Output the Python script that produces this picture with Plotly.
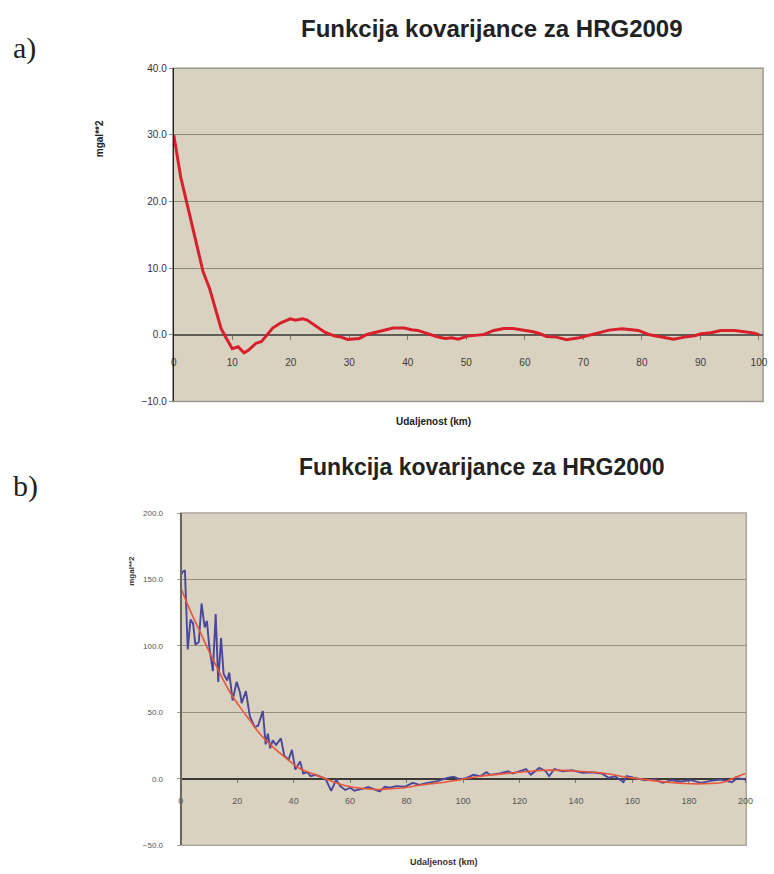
import plotly.graph_objects as go

# ---------------- data ----------------
# a) HRG2009 covariance function
top_km = [0, 1.2, 2.2, 3.3, 5, 6.1, 7.2, 8.1, 8.9, 10, 11, 12, 12.8, 14, 15, 16.9, 18.3, 19.9, 20.8, 22,
          22.8, 24.2, 25.8, 27.5, 28.6, 29.7, 31.7, 33, 35, 36.1, 37.5, 39.4, 40.6, 41.7, 42.8, 43.9, 45,
          46.4, 47.5, 48.6, 50.2, 51.9, 53, 54.7, 56.4, 58, 59.7, 61.4, 62.6, 63.7, 65.4, 67.1, 69.3, 71,
          72.7, 74.4, 76.6, 77.8, 79.4, 81.1, 83.4, 85.4, 87.3, 89, 90.1, 91.8, 93.5, 95.8, 97.5, 99.2, 100]
top_cov = [30.0, 23.6, 19.9, 15.9, 9.5, 7.0, 3.5, 0.9, -0.4, -2.1, -1.8, -2.7, -2.3, -1.3, -1.0, 1.0, 1.8,
           2.4, 2.2, 2.4, 2.2, 1.4, 0.4, -0.2, -0.35, -0.7, -0.55, 0.05, 0.45, 0.65, 1.0, 1.0, 0.75, 0.65,
           0.3, 0.05, -0.3, -0.55, -0.45, -0.65, -0.2, -0.05, 0.05, 0.65, 0.95, 0.95, 0.75, 0.45, 0.15,
           -0.25, -0.35, -0.75, -0.45, -0.05, 0.4, 0.7, 0.9, 0.75, 0.65, 0.05, -0.35, -0.65, -0.35, -0.15,
           0.15, 0.3, 0.65, 0.65, 0.45, 0.25, 0.0]

# b) HRG2000 empirical covariance
emp_km = [0, 0.8, 1.5, 2.5, 3.5, 4.4, 5.2, 6.4, 7.4, 8.5, 9.3, 10.1, 11.4, 12.4, 13.3, 14.3, 15.2, 16.5,
          17.2, 18.4, 19.8, 21.0, 21.6, 23.1, 24.5, 26.2, 27.4, 29.1, 30.1, 30.9, 31.7, 32.6, 33.8, 35.5,
          36.7, 38.2, 39.4, 40.6, 42.3, 43.4, 44.9, 46.0, 47.8, 49.5, 51.3, 53.3, 55.1, 56.5, 58.3, 60.0,
          61.5, 63.0, 64.7, 66.4, 68.8, 70.5, 72.3, 74.0, 76.3, 79.3, 82.2, 84.5, 87.4, 90.9, 94.4, 96.7,
          99.0, 101.3, 103.7, 106.0, 108.3, 109.5, 113.0, 116.0, 117.6, 120.0, 122.3, 124.0, 127.0, 129.3,
          130.5, 132.3, 135.2, 138.7, 142.2, 145.7, 149.2, 151.5, 153.8, 156.8, 157.9, 160.8, 164.3, 167.8,
          170.8, 173.7, 177.2, 180.7, 184.2, 187.7, 191.2, 195.3, 197.0, 200.0]
emp_cov = [153, 156, 157, 97.5, 120, 117, 101, 103, 132, 114, 119, 100, 81, 124, 73, 106, 79, 74, 80, 59,
           73, 65, 57, 66, 47, 39, 40, 51, 26, 34, 23, 29, 25.6, 30.5, 17.4, 14.4, 21.8, 7, 13, 4, 5, 2, 3,
           1.5, 0, -9, -0.5, -5.5, -8.4, -6.7, -9, -8, -7.4, -6.2, -8.4, -9.4, -6, -6.7, -5.5, -6, -3, -4.5,
           -3, -1.7, 0.7, 1.5, -0.5, 0.7, 3, 2, 5, 3, 4, 5.7, 4, 5.7, 7.4, 3.2, 8.2, 5.7, 2, 7.4, 5.7, 6.5,
           4.5, 5, 4, 0.7, 2, -2.5, 2, 0.7, -1, -0.5, -3, -1, -2, -1, -3, -1.5, -0.5, -2.5, 0.5, -0.5]

# b) HRG2000 fitted model
fit_km = [0, 3.5, 7, 10.5, 14, 17.5, 21, 24.5, 28, 32.6, 37.3, 42, 46.6, 51.3, 56, 60.6, 65.3, 70, 74.6,
          79.3, 83.9, 88.6, 93.2, 97.9, 106, 117.6, 129.3, 141, 150.3, 159.6, 168.9, 178.2, 185.2, 192.2,
          196.9, 200]
fit_cov = [144, 126, 110, 94, 79, 65, 54, 44, 34, 24, 15.6, 8, 4, 0, -3.7, -6.2, -7.4, -8, -7.4, -6.7,
           -5, -3.7, -2.5, -1, 2, 4.5, 6.5, 5.7, 4, 0.7, -1.7, -3.5, -3.7, -2.5, 1.5, 4]

top_xticks = list(range(0, 101, 10))
top_yrange = [-10, 40]
bot_xticks = list(range(0, 201, 20))
bot_yrange = [-50, 200]

title_a = "Funkcija kovarijance za HRG2009"
title_b = "Funkcija kovarijance za HRG2000"
x_title = "Udaljenost (km)"
y_title = "mgal**2"

# ---------------- layout helpers ----------------
W, H = 774, 874


def px(x):
    return x / W


def py(y):
    return 1 - y / H


# plot areas (pixels)
T_L, T_R, T_T, T_B = 172, 770, 64, 401
B_L, B_R, B_T, B_B = 180, 753, 514, 850

t_dom_y = [py(T_B), py(T_T)]
b_dom_y = [py(B_B), py(B_T)]
t_zero = t_dom_y[0] + (0 - top_yrange[0]) / (top_yrange[1] - top_yrange[0]) * (t_dom_y[1] - t_dom_y[0])
b_zero = b_dom_y[0] + (0 - bot_yrange[0]) / (bot_yrange[1] - bot_yrange[0]) * (b_dom_y[1] - b_dom_y[0])

SANS = "Liberation Sans, Arial, sans-serif"
SERIF = "Liberation Serif, Times New Roman, serif"

fig = go.Figure()
fig.add_trace(go.Scatter(x=top_km, y=top_cov, mode="lines", xaxis="x", yaxis="y",
                         line=dict(color="#d81f2c", width=3), showlegend=False))
fig.add_trace(go.Scatter(x=emp_km, y=emp_cov, mode="lines", xaxis="x2", yaxis="y2",
                         line=dict(color="#4a479b", width=1.9), showlegend=False))
fig.add_trace(go.Scatter(x=fit_km, y=fit_cov, mode="lines", xaxis="x2", yaxis="y2",
                         line=dict(color="#e8563c", width=1.6, shape="spline", smoothing=0.8),
                         showlegend=False))

fig.update_layout(
    width=W, height=H,
    margin=dict(l=0, r=0, t=0, b=0),
    paper_bgcolor="white",
    plot_bgcolor="#d9d2c1",
    font=dict(family=SANS, color="#333333"),
    xaxis=dict(domain=[px(T_L), px(T_R)], anchor="free", position=t_zero,
               range=[-0.17, 100.7], tickvals=top_xticks, ticktext=[str(v) for v in top_xticks],
               showgrid=False, zeroline=False, showline=True, linecolor="#5f5d58", linewidth=1.5,
               ticks="outside", ticklen=4, tickcolor="#7a776f", tickwidth=1,
               tickfont=dict(size=10, color="#3a3a3a"), ticklabelstandoff=14, layer="below traces"),
    yaxis=dict(domain=t_dom_y, anchor="free", position=px(T_L), range=top_yrange, dtick=10,
               tickformat=".1f", showgrid=True, gridcolor="#8c887c", gridwidth=1, zeroline=False,
               showline=True, linecolor="#222222", linewidth=1, ticks="outside", ticklen=4,
               tickcolor="#8c887c", tickfont=dict(size=10, color="#333333")),
    xaxis2=dict(domain=[px(B_L), px(B_R)], anchor="free", position=b_zero,
                range=[0, 200.3], tickvals=bot_xticks, ticktext=[str(v) for v in bot_xticks],
                showgrid=False, zeroline=False, showline=True, linecolor="#3b3a36", linewidth=2,
                ticks="outside", ticklen=3, tickcolor="#77736a", tickwidth=1,
                tickfont=dict(size=9, color="#555555"), ticklabelstandoff=10, layer="below traces"),
    yaxis2=dict(domain=b_dom_y, anchor="free", position=px(B_L), range=bot_yrange, dtick=50,
                tickformat=".1f", showgrid=True, gridcolor="#978f80", gridwidth=1.2, zeroline=False,
                showline=True, linecolor="#6a675f", linewidth=2, ticks="outside", ticklen=3,
                tickcolor="#a39d90", tickfont=dict(size=8, color="#555555"), ticklabelstandoff=12),
    shapes=[
        dict(type="rect", xref="x domain", yref="y domain", x0=0, x1=1, y0=0, y1=1,
             line=dict(color="#9a968d", width=1.5), layer="below"),
        dict(type="rect", xref="x2 domain", yref="y2 domain", x0=0, x1=1, y0=0, y1=1,
             line=dict(color="#aaa69c", width=1.5), layer="below"),
    ],
    annotations=[
        dict(text="<b>" + title_a + "</b>", x=px(495), y=py(24), xref="paper", yref="paper",
             showarrow=False, font=dict(size=24, color="#222222", family=SANS),
             xanchor="center", yanchor="middle"),
        dict(text="<b>" + title_b + "</b>", x=px(485), y=py(467), xref="paper", yref="paper",
             showarrow=False, font=dict(size=23, color="#222222", family=SANS),
             xanchor="center", yanchor="middle"),
        dict(text="a)", x=px(8), y=py(44), xref="paper", yref="paper", showarrow=False,
             font=dict(size=30, color="#231f20", family=SERIF), xanchor="left", yanchor="middle"),
        dict(text="b)", x=px(8), y=py(487), xref="paper", yref="paper", showarrow=False,
             font=dict(size=30, color="#231f20", family=SERIF), xanchor="left", yanchor="middle"),
        dict(text="<b>" + y_title + "</b>", x=px(98), y=py(135), xref="paper", yref="paper",
             showarrow=False, textangle=-90, font=dict(size=10, color="#222222", family=SANS),
             xanchor="center", yanchor="middle"),
        dict(text="<b>" + y_title + "</b>", x=px(130), y=py(572), xref="paper", yref="paper",
             showarrow=False, textangle=-90, font=dict(size=8, color="#333333", family=SANS),
             xanchor="center", yanchor="middle"),
        dict(text="<b>" + x_title + "</b>", x=px(436), y=py(421), xref="paper", yref="paper",
             showarrow=False, font=dict(size=10, color="#222222", family=SANS),
             xanchor="center", yanchor="middle"),
        dict(text="<b>" + x_title + "</b>", x=px(447), y=py(867), xref="paper", yref="paper",
             showarrow=False, font=dict(size=9, color="#333333", family=SANS),
             xanchor="center", yanchor="middle"),
    ],
)

fig.write_html("out.html")
